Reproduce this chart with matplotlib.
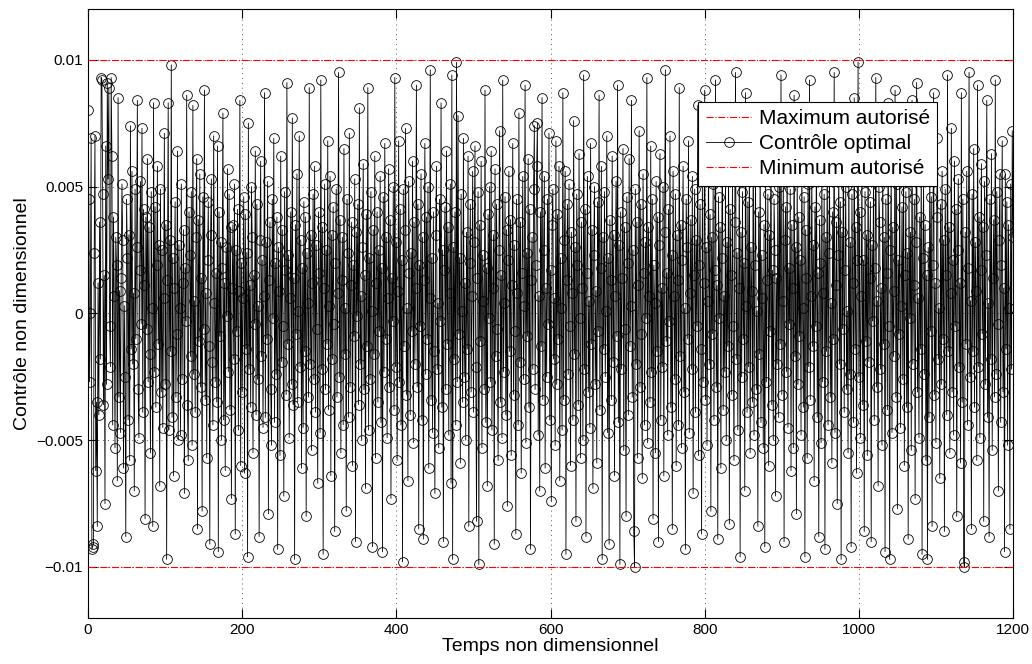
import matplotlib
matplotlib.use("Agg")
import matplotlib.pyplot as plt
import numpy as np

# controle optimal, en unites de 1e-4 (t = 0, 1, 2, ... 1200)
controle = [
    80, 45, -27, 0, 69, -93, -92, -91, 24, 70, -62, -35, -84, 12, -40, 36, -18, 93, 92, 47,
    -36, 15, -75, 66, -28, 91, 53, 89, -5, -21, 93, 62, -44, 38, 7, -53, 30, 19, -66, 85,
    -33, 9, -47, 14, 51, 29, -61, 3, -25, -88, 45, 22, -42, 31, -58, 74, -14, 56, -20, 8,
    -70, 49, -10, 26, 84, -30, -49, 17, 52, -4, 73, -39, 41, 11, -81, 38, -6, 61, -27, 34,
    -16, -55, 48, 2, -84, 83, -23, 42, -37, 19, 58, -12, 27, -68, 49, -31, 25, -45, 6, 71,
    -28, 35, -97, 13, 83, -46, 29, -15, 98, -41, 22, -64, 10, 44, -33, -8, 64, -50, 27, 2,
    -48, 51, -26, 12, 33, -71, 18, -3, 86, -36, -58, 40, 23, -17, 48, -52, 82, -24, 5, -39,
    30, 61, -85, 37, -11, 55, -29, 14, -78, 46, -6, 88, -34, 8, -57, 21, 44, -13, -91, 31,
    53, -19, -44, 70, 4, -27, 16, -35, 66, -94, 40, -9, 28, -50, 18, 79, -42, 12, -62, 26,
    -1, 57, -23, 47, -38, 34, -73, 10, 35, -18, 51, -87, 25, -7, 41, -46, 9, 84, -60, 20,
    -31, 6, 46, -63, 39, -14, 24, -96, 75, -22, 11, -37, 50, 30, -55, 15, -4, 64, -40, 43,
    -26, 3, -88, 29, 60, -17, 21, -45, 7, 87, -41, 28, -10, 52, -79, 13, 36, -30, -52, 45,
    -2, 69, -43, 20, -24, 38, -93, 26, 9, -56, 62, -19, 33, -5, -72, 48, 17, -32, 91, -12,
    23, -49, 6, 40, -28, 77, -36, 14, -97, 35, -8, 55, -35, 1, 70, -21, 29, -61, 18, -45,
    44, -15, 38, -80, 24, 4, -33, 89, -20, 31, -54, 12, 47, -26, 58, -39, 27, -6, -67, 40,
    16, -47, 92, -22, 34, -95, 10, 51, -30, 25, -12, 68, -38, 3, 54, -64, 31, -18, 42, -4,
    -86, 20, 49, -33, 8, 95, -25, 37, -55, 13, 30, -44, 65, -16, 2, -78, 45, 24, -41, 71,
    -29, 11, 36, -60, 19, -9, 53, -90, 32, -1, 43, -36, 81, -20, 7, -50, 26, 59, -30, 15,
    -69, 39, -13, 89, -46, 22, -26, 48, 1, -92, 33, -16, 62, -57, 12, 40, -35, 25, -7, 54,
    -43, 18, -94, 46, -23, 67, -10, 30, -49, 6, 57, -29, 37, -73, 14, -3, 50, -38, 93, -21,
    28, -58, 9, 68, -27, 41, -44, 21, -98, 49, -13, 33, 73, -32, 2, -66, 52, 16, -40, 24,
    -7, 60, -51, 36, -20, 10, 90, -29, 43, -85, 19, -5, 55, -42, 30, -89, 13, 67, -24, 38,
    -10, 50, -61, 6, 96, -34, 22, -47, 40, -15, -71, 31, 58, -22, 4, -53, 45, -3, 83, -37,
    25, -90, 17, 42, -30, 64, -12, 34, -48, 8, 51, -67, 94, -97, 26, -18, 40, -44, 99, -27,
    78, -8, 22, -59, 47, 1, -35, 69, -25, 12, -50, 32, -14, 62, -84, 20, 43, -31, 7, 56,
    -39, 28, 66, -21, -82, 14, 48, -99, 35, -11, 60, -53, 23, 5, -30, 88, -43, 18, -68, 39,
    -2, 50, -27, 64, -46, 10, 31, -91, 57, -17, 43, -6, -58, 25, 72, -35, 15, -49, 92, -23,
    4, 46, -40, 33, -76, 21, 56, -15, 37, -56, 11, 67, -32, 27, -7, -87, 45, 8, -44, 79,
    -19, 36, -63, 16, 54, -26, 3, 90, -51, 24, -9, 61, -37, 41, -93, 13, 30, -22, 49, 74,
    -30, 19, 58, 75, -48, 7, -70, 40, -13, 85, -34, 25, 54, -61, 10, -25, 45, -4, 71, -42,
    17, -74, 35, 49, -18, 6, -52, 68, -28, 39, -10, 58, -66, 22, 2, -46, 87, -34, 29, 56,
    -95, 13, 43, -24, 51, -5, -60, 32, 8, -42, 76, -16, 26, -82, 47, 19, -36, 63, -2, -57,
    36, 10, -50, 94, -22, 41, -88, 16, 54, -31, 5, -45, 67, -12, 33, -69, 23, 50, -28, 9,
    -59, 44, -7, 86, -38, 18, 58, -97, 30, -14, 48, -25, 1, 70, -47, 22, -91, 37, 13, -34,
    62, -19, 31, -64, 7, 52, -9, 90, -43, 27, -99, 40, -22, 14, 65, -54, 34, -6, -80, 46,
    20, -40, 61, -13, 3, 84, -33, 25, -86, -100, 49, -20, 36, -57, 11, 72, -29, 43, -8, -65,
    55, 16, -44, 28, -2, 93, -51, 34, 7, -35, 66, -23, 45, -81, 19, 4, -55, 52, -15, 38,
    -90, 27, 63, -42, 10, -21, 50, -64, 32, 96, -11, 16, -48, 41, -3, 70, -37, 23, -85, 56,
    7, -26, 47, -60, 31, 13, -44, 89, -17, 35, -53, 21, 58, -31, 2, -93, 45, 26, -10, 68,
    -47, 8, 37, -22, 54, -71, 15, 49, -39, 29, -5, 82, -56, 19, 43, -14, -87, 55, -27, 12,
    88, -34, 26, -52, 5, 62, -20, 39, -78, 30, -8, 51, -42, 17, 92, -29, 11, -89, 46, -2,
    34, -61, 22, 73, -38, 7, -23, 56, -50, 28, -13, 66, -83, 41, 15, -32, 52, -5, -58, 36,
    95, -18, 24, -46, 10, 59, -96, 32, -25, 48, -10, 20, -70, 87, 3, -39, 44, -21, 63, -55,
    26, 9, -35, 80, -48, 19, 54, -30, 1, -84, 40, -16, 67, -43, 23, 6, -53, 35, -92, 58,
    -27, 13, 47, -60, 31, -7, 78, -36, 17, -50, 45, 25, -72, 14, -20, 61, -41, 50, -12, 94,
    -32, 5, 55, -90, 29, 42, -23, 71, -45, 18, -4, 49, -62, 35, 10, -53, 86, -17, 26, -79,
    60, -28, 38, -9, 21, -48, 65, 2, -37, 46, -96, 33, 14, -57, 51, -21, 92, -34, 7, 57,
    -13, 27, -66, 42, -5, 74, -41, 16, -88, 37, 20, -51, 62, -27, 8, 47, -93, 30, -15, 67,
    -44, 24, 54, -33, 4, -59, 40, -10, 95, -47, 11, 36, -75, 23, 57, -20, 44, -97, 32, -6,
    81, -39, 17, 50, -30, 1, -55, 64, -24, 28, -92, 47, 12, -43, 85, -14, 34, -63, 21, 99,
    -25, 40, -49, 7, 59, -36, 21, -86, 48, -11, 31, -56, 72, -19, 14, 44, -90, 27, -3, 54,
    -42, 18, 93, -29, 5, -68, 50, 36, -22, 10, -52, 64, -12, 30, -94, 45, 16, -38, 83, -5,
    -97, 25, 55, -47, 34, -17, 9, 88, -33, 51, -77, 21, -8, 61, -45, 3, 42, -26, 70, -60,
    15, 48, -37, 24, -89, 57, -2, 32, -54, 84, -20, 11, 45, -73, 28, 91, -31, 6, -49, 38,
    -14, 65, -95, 22, 52, -24, 35, -58, 15, -97, 26, -41, 60, -7, 46, -84, 19, 87, -32, 12,
    -51, 38, 69, -18, 2, -65, 43, -28, 56, -10, 29, -86, 49, 15, -40, 94, -15, 34, -55, 8,
    73, -31, 21, -48, 60, -5, 41, -80, 25, 53, -21, 12, -59, 87, -35, 45, -98, -100, 32, -12,
    56, -44, 18, 95, -25, 5, -85, 47, -15, 65, -37, 28, 9, -58, 90, -21, 38, -49, 17, 59,
    -8, 34, -82, 52, -28, 23, 84, -41, 4, -88, 45, -18, 63, -54, 14, 37, -33, 92, -24, 48,
    -4, -70, 29, 55, -43, 19, 68, -31, 10, -94, 55, -14, 44, -52, 35, 2, -85, 51, -22, 72,
    30,
]

u_max = 0.01
u_min = -0.01
xticks = [0, 200, 400, 600, 800, 1000, 1200]
yticks = [-0.01, -0.005, 0, 0.005, 0.01]
ylabels = ["\u22120.01", "\u22120.005", "0", "0.005", "0.01"]

plt.rcParams['font.family'] = ['Liberation Sans', 'DejaVu Sans']

u = np.array(controle) * 1e-4
t = np.arange(len(u))

fig = plt.figure(figsize=(10.32, 6.64), dpi=100)
ax = fig.add_axes([0.0853, 0.0697, 0.8963, 0.9167])

h_max, = ax.plot([0, 1200], [u_max, u_max], color='red', ls='-.', lw=0.8,
                 label='Maximum autorisé', zorder=3)
h_u, = ax.plot(t, u, color='black', lw=0.6, marker='o', ms=7, mfc='none',
               mec='black', mew=0.6, label='Contrôle optimal', zorder=2)
h_min, = ax.plot([0, 1200], [u_min, u_min], color='red', ls='-.', lw=0.8,
                 label='Minimum autorisé', zorder=3)

ax.set_xlim(0, 1200)
ax.set_ylim(-0.012, 0.012)
ax.set_xticks(xticks)
ax.set_yticks(yticks)
ax.set_yticklabels(ylabels)
ax.tick_params(direction='in', top=True, right=True, labelsize=11, length=6.5,
               width=0.8)
ax.grid(True, ls=(0, (1, 4)), color='0.35', lw=0.7)
ax.set_xlabel('Temps non dimensionnel', fontsize=14, labelpad=1)
ax.set_ylabel('Contrôle non dimensionnel', fontsize=14, labelpad=4)

leg = ax.legend(handles=[h_max, h_u, h_min], loc='upper right',
                bbox_to_anchor=(0.918, 0.848), fontsize=15, fancybox=False,
                framealpha=1, edgecolor='black', borderpad=0.35,
                labelspacing=0.3, handlelength=2.2, handletextpad=0.35,
                borderaxespad=0)
leg.get_frame().set_linewidth(0.8)

fig.savefig('out.png', dpi=100)
